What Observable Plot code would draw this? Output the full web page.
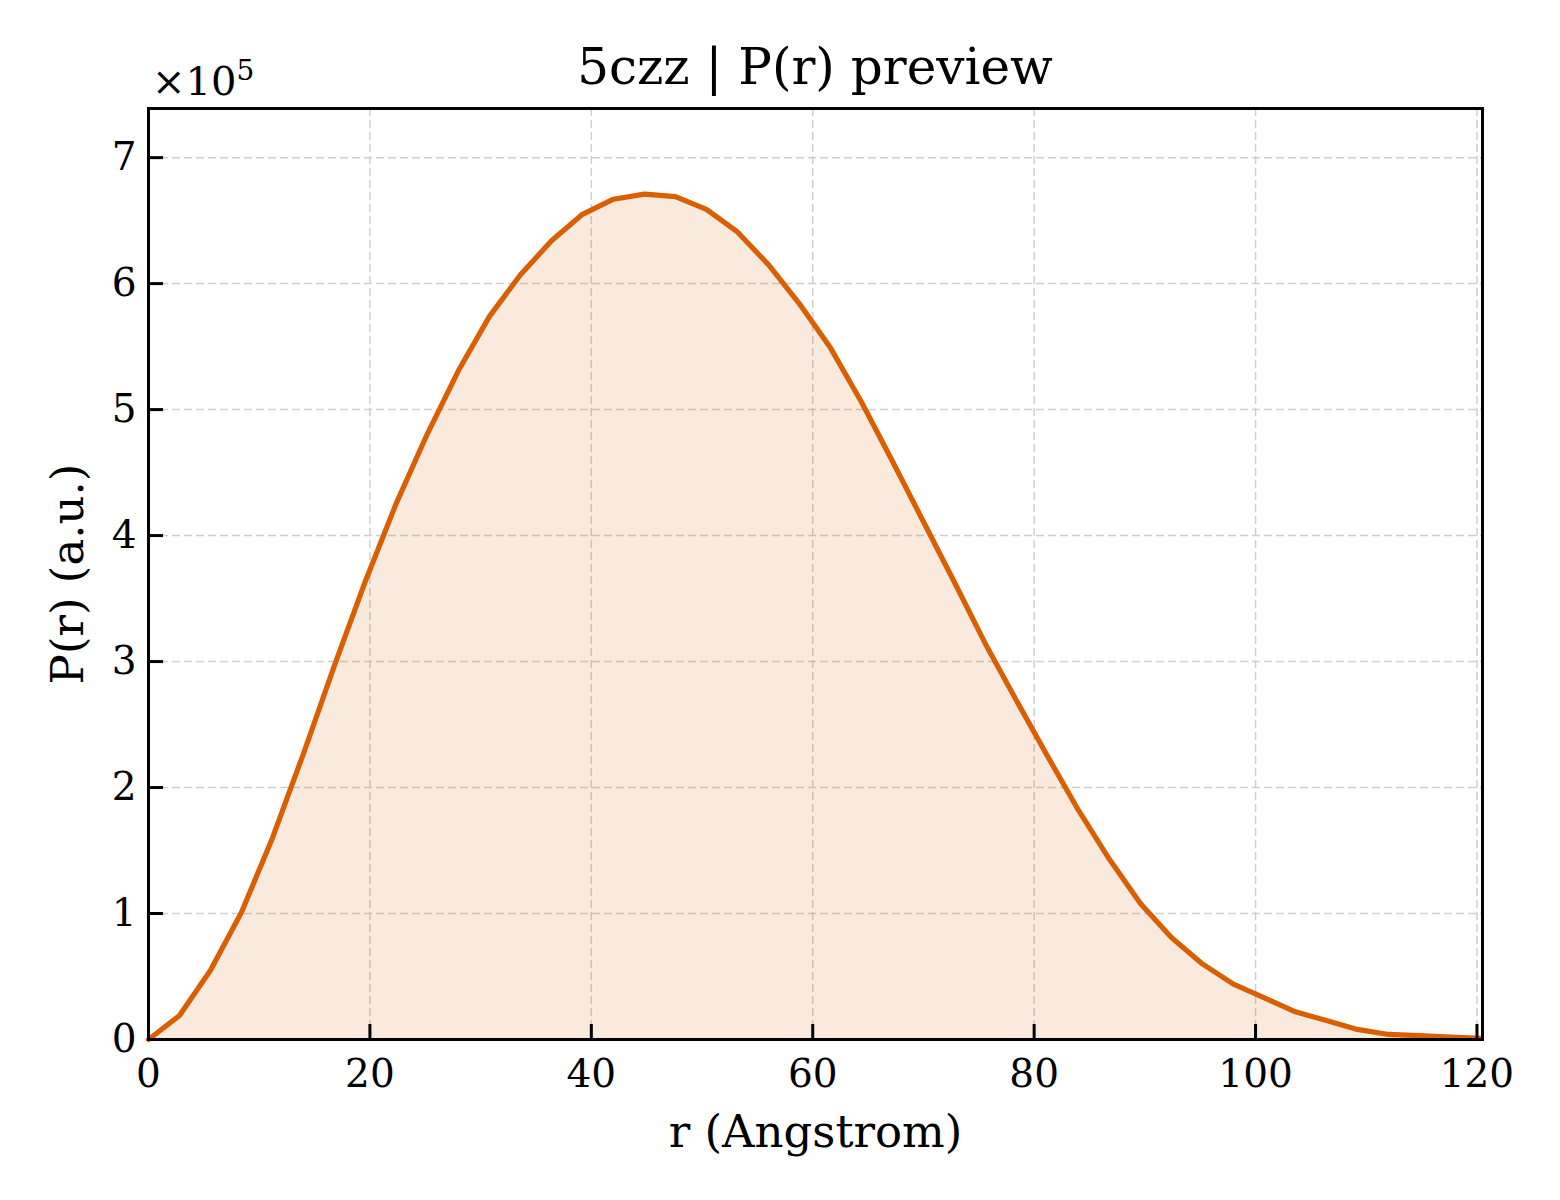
<!DOCTYPE html>
<html>
<head>
<meta charset="utf-8">
<script src="https://cdn.jsdelivr.net/npm/d3@7"></script>
<script src="https://cdn.jsdelivr.net/npm/@observablehq/plot@0.6"></script>
<style>
  html, body { margin: 0; padding: 0; background: white; }
  #wrap { width: 1560px; font-family: "DejaVu Serif", serif; color: black; }
  #head { position: relative; height: 100px; }
  #title { position: absolute; left: 0; width: 1630px; text-align: center; top: 42px; font-size: 50px; line-height: 50px; }
  #mult { position: absolute; left: 152px; top: 61px; font-size: 40px; line-height: 40px; }
  #mult sup { font-size: 28px; vertical-align: 0; position: relative; top: -15px; }
</style>
</head>
<body>
<div id="wrap">
  <div id="head">
    <div id="title">5czz | P(r) preview</div>
    <div id="mult">×10<sup>5</sup></div>
  </div>
  <div id="chart"></div>
</div>
<script>
// r (Angstrom)
const rValues = [0, 2.8, 5.6, 8.4, 11.2, 14.0, 16.8, 19.6, 22.4, 25.2, 28.0, 30.8, 33.6, 36.4, 39.2, 42.0,
  44.8, 47.6, 50.4, 53.2, 56.0, 58.8, 61.6, 64.4, 67.2, 70.0, 72.8, 75.6, 78.4, 81.2, 84.0, 86.8,
  89.6, 92.4, 95.2, 98.0, 100.8, 103.6, 106.4, 109.2, 112.0, 114.8, 117.6, 120.4];
// P(r) (a.u.)
const pValues = [0, 19000, 55000, 101000, 160000, 227000, 297000, 364000, 426000, 481000, 531000, 574000,
  607000, 634000, 655000, 667000, 671000, 669000, 659000, 641000, 615000, 584000, 549000, 506000,
  459000, 411000, 363000, 314000, 269000, 225000, 182000, 143000, 108000, 81000, 60000, 44000,
  33000, 22000, 15000, 8000, 4000, 3000, 2000, 1000];
const xTicks = [0, 20, 40, 60, 80, 100, 120];
const yTicks = [0, 100000, 200000, 300000, 400000, 500000, 600000, 700000];
const xDomain = [0, 120.5];
const yDomain = [0, 739000];
const title = "5czz | P(r) preview";
const xLabel = "r (Angstrom)";
const yLabel = "P(r) (a.u.)";
const lineColor = "#d95f02";

const data = rValues.map((r, i) => ({r, p: pValues[i]}));

const W = 1560, H = 1100;
const mL = 148, mR = 78, mT = 8, mB = 161;
const plotW = W - mL - mR, plotH = H - mT - mB;
const tickLen = 15;

const chart = Plot.plot({
  width: W,
  height: H,
  marginLeft: mL,
  marginRight: mR,
  marginTop: mT,
  marginBottom: mB,
  style: {fontFamily: "DejaVu Serif", fontSize: "39px", background: "white", color: "black", overflow: "visible"},
  x: {domain: xDomain, ticks: xTicks},
  y: {domain: yDomain, ticks: yTicks},
  marks: [
    Plot.gridX(xTicks, {stroke: "#cfcfcf", strokeOpacity: 1, strokeWidth: 1.5, strokeDasharray: "8,4"}),
    Plot.gridY(yTicks, {stroke: "#cfcfcf", strokeOpacity: 1, strokeWidth: 1.5, strokeDasharray: "8,4"}),
    Plot.areaY(data, {x: "r", y: "p", fill: lineColor, fillOpacity: 0.13}),
    Plot.lineY(data, {x: "r", y: "p", stroke: lineColor, strokeWidth: 5.2}),
    Plot.tickX(xTicks, {x: d => d, stroke: "black", strokeWidth: 3, insetTop: plotH - tickLen}),
    Plot.tickY(yTicks, {y: d => d, stroke: "black", strokeWidth: 3, insetRight: plotW - tickLen}),
    Plot.frame({stroke: "black", strokeWidth: 3}),
    Plot.axisX(xTicks, {tickSize: 0, tickPadding: 20, label: null, fontSize: 39, tickFormat: d => String(d)}),
    Plot.axisY(yTicks, {tickSize: 0, tickPadding: 12, label: null, fontSize: 39, tickFormat: d => String(Math.round(d / 1e5))}),
    Plot.text([xLabel], {text: d => d, frameAnchor: "bottom", dy: 93, fontSize: 45, lineAnchor: "middle"}),
    Plot.text([yLabel], {text: d => d, frameAnchor: "left", dx: -80, rotate: -90, fontSize: 45, lineAnchor: "middle", textAnchor: "middle"})
  ]
});
document.getElementById("chart").appendChild(chart);
</script>
</body>
</html>
